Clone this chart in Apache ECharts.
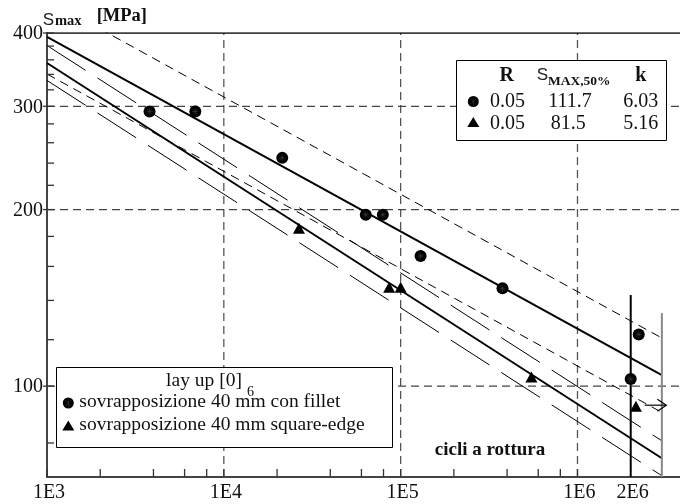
<!DOCTYPE html>
<html><head><meta charset="utf-8">
<script src="https://cdn.jsdelivr.net/npm/echarts@6/dist/echarts.min.js"></script>
<style>html,body{margin:0;padding:0;background:#fff}#c{width:680px;height:504px}</style>
</head><body><div id="c"></div>
<script>
// ---- data ----
const filletPoints = [[3800,294],[6900,294],[21400,245],[63500,196],[79300,196],[129600,166.7],[376700,146.8],[2.22e6,122.5],[2.0e6,102.8]];
const squarePoints = [[26600,185.8],[86100,147.4],[100000,147.4],[549000,103.7],[2.14e6,92.4]];
const filletMean  = [[1e3,394.0],[3e6,104.4]];
const filletUpper = [[1e3,455.9],[3e6,120.8]];
const filletLower = [[1e3,340.5],[3e6,90.2]];
const squareMean  = [[1e3,355.6],[3e6,75.34]];
const squareUpper = [[1e3,380.8],[3e6,80.69]];
const squareLower = [[1e3,332.0],[3e6,70.35]];
const runoutLine  = [[2e6,143],[2e6,70]];
const limitLine   = [[3e6,133.2],[3e6,70]];
const runoutArrow = [[2.4e6,92.8],[3.18e6,92.8]];
const xTickValues = [1e3,1e4,1e5,1e6,2e6];
const xTickLabels = ['1E3','1E4','1E5','1E6','2E6'];
const xMinorTicks = [2e3,4e3,6e3,8e3,2e4,4e4,6e4,8e4,2e5,4e5,6e5,8e5];
const yTickValues = [100,200,300,400];
const yTickLabels = ['100','200','300','400'];
const yMinorTicks = [80,120,140,160,180,220,240,260,280,320,340,360,380];
const xGrid = [1e4,1e5,1e6];
const yGrid = [100,200,300];
const tableHeader = ['R','S','MAX,50%','k'];
const tableRows = [['0.05','111.7','6.03'],['0.05','81.5','5.16']];
const legendTitle = ['lay up [0]','6'];
const legendLabels = ['sovrapposizione 40 mm con fillet','sovrapposizione 40 mm square-edge'];
const axisTitle = ['S','max','[MPa]'];
const xTitle = 'cicli a rottura';

const xMin = 1000, xMax = 3.8e6, yMin = 70, yMax = 400;
const FONT = '"Liberation Serif","Times New Roman",serif';
const SANS = '"Liberation Sans",Arial,sans-serif';

function lineSeries(data, style, z) {
  return {type:'line', data:data, showSymbol:false, symbol:'none', silent:true,
          lineStyle:style, z:z||3, clip:true};
}
const series = [];
xGrid.forEach(v => series.push(lineSeries([[v,yMin],[v,yMax]], {color:'#555',width:1.3,type:[8,5]}, 1)));
yGrid.forEach(v => series.push(lineSeries([[xMin,v],[xMax,v]], {color:'#444',width:1.3,type:[8,5]}, 1)));
series.push(lineSeries([[xMin,yMax],[xMax,yMax]], {color:'#000',width:1.5}, 2));
series.push(lineSeries(filletMean,  {color:'#000',width:2}));
series.push(lineSeries(squareMean,  {color:'#000',width:2}));
series.push(lineSeries(filletUpper, {color:'#000',width:1,type:[9,6]}));
series.push(lineSeries(filletLower, {color:'#000',width:1,type:[9,6]}));
series.push(lineSeries(squareUpper, {color:'#000',width:1,type:[46,14]}));
series.push(lineSeries(squareLower, {color:'#000',width:1,type:[46,14]}));
series.push(lineSeries(runoutLine,  {color:'#000',width:2}));
series.push(lineSeries(limitLine,   {color:'#888',width:2}));

// ticks
series.push({type:'custom', silent:true, clip:false, z:5,
  data: xMinorTicks.concat(xTickValues.slice(0,4)).map(v=>[v,yMin]),
  renderItem:(p,api)=>{const c=api.coord([api.value(0),api.value(1)]);
    return {type:'line',shape:{x1:c[0],y1:c[1],x2:c[0],y2:c[1]-8},style:{stroke:'#333',lineWidth:1.3}};}});
series.push({type:'custom', silent:true, clip:false, z:5,
  data: yMinorTicks.map(v=>[xMin,v]),
  renderItem:(p,api)=>{const c=api.coord([api.value(0),api.value(1)]);
    return {type:'line',shape:{x1:c[0],y1:c[1],x2:c[0]+7,y2:c[1]},style:{stroke:'#333',lineWidth:1.3}};}});
series.push({type:'custom', silent:true, clip:false, z:5,
  data: yTickValues.map(v=>[xMin,v]),
  renderItem:(p,api)=>{const c=api.coord([api.value(0),api.value(1)]);
    return {type:'group',children:[
      {type:'line',shape:{x1:c[0]-4,y1:c[1],x2:c[0]+7,y2:c[1]},style:{stroke:'#333',lineWidth:1.3}},
      {type:'text',x:c[0]-4,y:c[1]+1,style:{text:yTickLabels[p.dataIndex],fontFamily:FONT,fontSize:20,fill:'#111',align:'right',verticalAlign:'middle'}}]};}});
series.push({type:'custom', silent:true, clip:false, z:5,
  data: xTickValues.map(v=>[v,yMin]),
  renderItem:(p,api)=>{const c=api.coord([api.value(0),api.value(1)]);
    return {type:'text',x:c[0]+2,y:c[1]+16,style:{text:xTickLabels[p.dataIndex],fontFamily:FONT,fontSize:20,fill:'#111',align:'center',verticalAlign:'middle'}};}});
// run-out arrow
series.push({type:'custom', silent:true, clip:false, z:5,
  data: runoutArrow,
  renderItem:(p,api)=>{ if(p.dataIndex!==0) return null;
    const a=api.coord(runoutArrow[0]), b=api.coord(runoutArrow[1]);
    return {type:'group',children:[
      {type:'line',shape:{x1:a[0],y1:a[1],x2:b[0],y2:b[1]},style:{stroke:'#000',lineWidth:1.2}},
      {type:'polyline',shape:{points:[[b[0]-9,b[1]-6],[b[0],b[1]],[b[0]-9,b[1]+6]]},style:{stroke:'#000',fill:'none',lineWidth:1.2}}]};}});
// markers
series.push({type:'scatter', data:filletPoints, symbol:'circle', symbolSize:12, itemStyle:{color:'#000',opacity:1}, z:6, silent:true});
series.push({type:'scatter', data:filletPoints, symbol:'path://M5 0L5 10M0 5L10 5M1.5 1.5L8.5 8.5M1.5 8.5L8.5 1.5', symbolSize:7,
  itemStyle:{color:'none',borderColor:'#555',borderWidth:0.4,opacity:1}, z:7, silent:true});
series.push({type:'scatter', data:squarePoints, symbol:'triangle', symbolSize:[12,11], itemStyle:{color:'#000',opacity:1}, z:6, silent:true});

function txt(x,y,text,o){return Object.assign({type:'text',x:x,y:y,z:20,style:Object.assign({text:text,fontFamily:FONT,fontSize:20,fill:'#111',align:'left',verticalAlign:'middle'},o||{})});}
function dot(x,y){return [
  {type:'circle',z:20,shape:{cx:x,cy:y,r:5.5},style:{fill:'#000'}},
  {type:'line',z:21,shape:{x1:x-3,y1:y-3,x2:x+3,y2:y+3},style:{stroke:'#555',lineWidth:0.4}},
  {type:'line',z:21,shape:{x1:x-3,y1:y+3,x2:x+3,y2:y-3},style:{stroke:'#555',lineWidth:0.4}},
  {type:'line',z:21,shape:{x1:x,y1:y-4,x2:x,y2:y+4},style:{stroke:'#555',lineWidth:0.4}}];}
function tri(x,y){return {type:'polygon',z:20,shape:{points:[[x,y-5.5],[x+6,y+4.5],[x-6,y+4.5]]},style:{fill:'#000'}};}

const graphics = [
  // axis title
  txt(42.7,20,axisTitle[0],{fontFamily:SANS,fontSize:17,fill:'#222'}),
  txt(55,21,axisTitle[1],{fontSize:14.5,fontWeight:'bold'}),
  txt(96.7,16.5,axisTitle[2],{fontSize:18.5,fontWeight:'bold'}),
  txt(490,450.5,xTitle,{fontSize:19,fontWeight:'bold',align:'center'}),
  // table legend
  {type:'rect',z:19,shape:{x:456.5,y:60.5,width:210,height:80},style:{fill:'#fff',stroke:'#000',lineWidth:1}},
  txt(506.7,76,tableHeader[0],{fontWeight:'bold',align:'center'}),
  txt(536.7,75.5,tableHeader[1],{fontFamily:SANS,fontSize:17,fill:'#222'}),
  txt(548,82,tableHeader[2],{fontSize:13.5,fontWeight:'bold'}),
  txt(640.8,76,tableHeader[3],{fontWeight:'bold',align:'center'}),
  ...dot(473.3,101.5), tri(473.3,122.5),
  txt(507.5,101.5,tableRows[0][0],{align:'center'}),
  txt(570,101.5,tableRows[0][1],{align:'center'}),
  txt(658.3,101.5,tableRows[0][2],{align:'right'}),
  txt(507.5,123.5,tableRows[1][0],{align:'center'}),
  txt(568.3,123.5,tableRows[1][1],{align:'center'}),
  txt(658.3,123.5,tableRows[1][2],{align:'right'}),
  // series legend
  {type:'rect',z:19,shape:{x:56.5,y:367.5,width:336,height:80},style:{fill:'#fff',stroke:'#000',lineWidth:1}},
  txt(204,381,legendTitle[0],{fontSize:19.5,align:'center'}),
  txt(247,392,legendTitle[1],{fontSize:14}),
  ...dot(68.3,403), txt(79.3,401.7,legendLabels[0],{fontSize:19.5}),
  tri(68.3,426), txt(79.3,425,legendLabels[1],{fontSize:19.5})
];

const chart = echarts.init(document.getElementById('c'));
chart.setOption({
  animation:false,
  backgroundColor:'#fff',
  grid:{left:47,right:0,top:33,bottom:27,containLabel:false},
  xAxis:{type:'log',logBase:10,min:xMin,max:xMax,
    axisLine:{show:true,onZero:false,lineStyle:{color:'#444',width:2}},
    axisTick:{show:false},axisLabel:{show:false},splitLine:{show:false},minorTick:{show:false}},
  yAxis:{type:'log',logBase:10,min:yMin,max:yMax,
    axisLine:{show:true,onZero:false,lineStyle:{color:'#444',width:2}},
    axisTick:{show:false},axisLabel:{show:false},splitLine:{show:false},minorTick:{show:false}},
  series:series,
  graphic:{elements:graphics}
});
</script>
</body></html>
